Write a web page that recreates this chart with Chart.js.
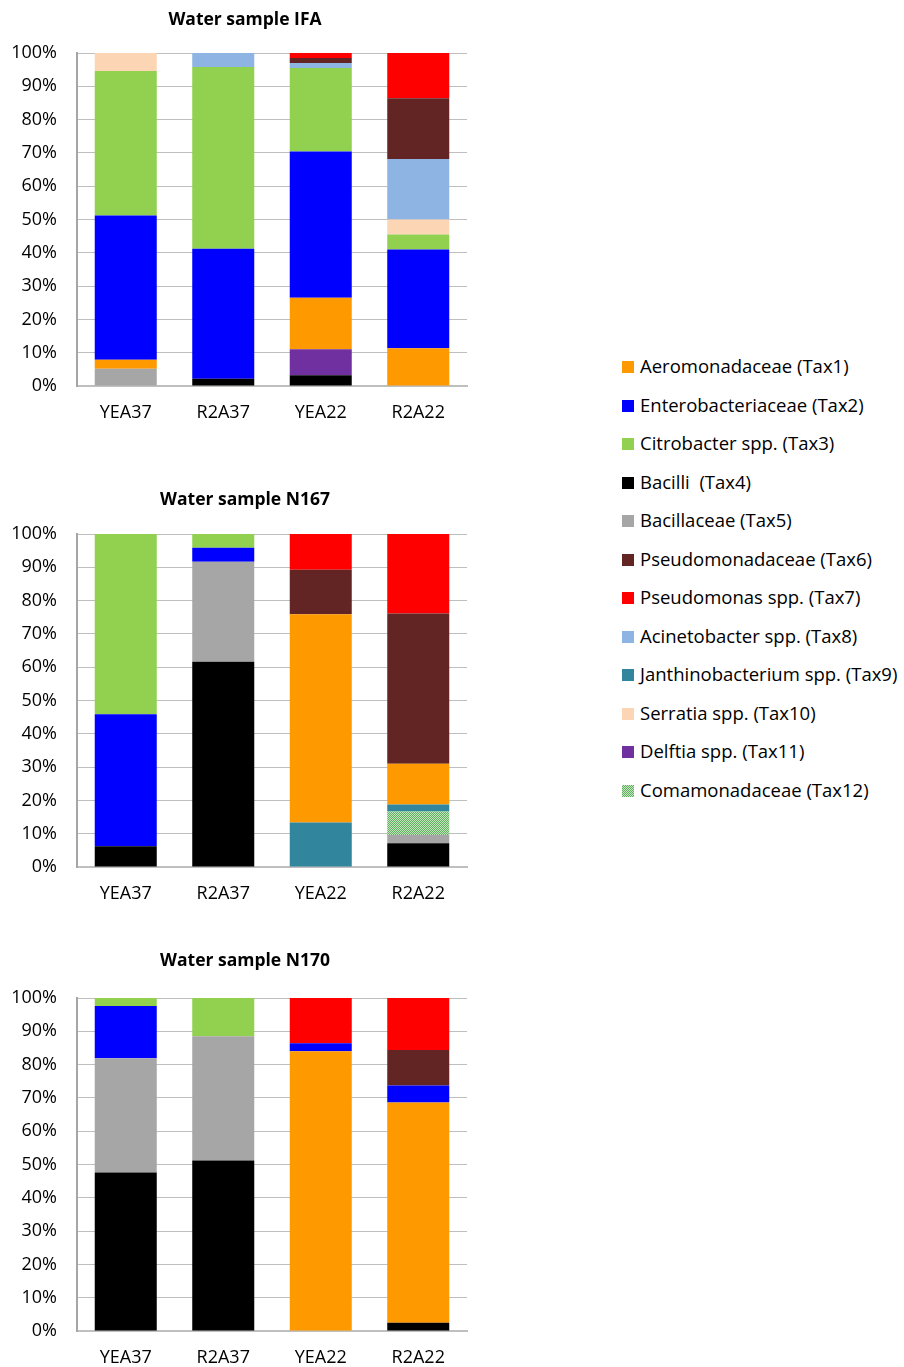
<!DOCTYPE html>
<html>
<head>
<meta charset="utf-8">
<script src="https://cdn.jsdelivr.net/npm/chart.js@4/dist/chart.umd.min.js"></script>
<style>
  body { margin: 0; background: #fff; font-family: 'Open Sans', sans-serif; }
  .box { position: absolute; left: 0; width: 490px; height: 422px; }
  #legend { position: absolute; left: 622px; top: 347px; }
  #legend div { height: 38.5px; line-height: 38.5px; font-size: 18.5px; color: #000; white-space: pre; }
  #legend span.sw { display: inline-block; width: 12px; height: 12px; margin-right: 6px; vertical-align: middle; position: relative; top: -1px; }
</style>
</head>
<body>
<div class="box" style="top:0px"><canvas id="chartIFA"></canvas></div>
<div class="box" style="top:481px"><canvas id="chartN167"></canvas></div>
<div class="box" style="top:945px"><canvas id="chartN170"></canvas></div>
<div id="legend"></div>

<script>
// sample / medium combinations on the x axis
const samples = ['YEA37', 'R2A37', 'YEA22', 'R2A22'];

const taxa = [
  'Aeromonadaceae (Tax1)',
  'Enterobacteriaceae (Tax2)',
  'Citrobacter spp. (Tax3)',
  'Bacilli  (Tax4)',
  'Bacillaceae (Tax5)',
  'Pseudomonadaceae (Tax6)',
  'Pseudomonas spp. (Tax7)',
  'Acinetobacter spp. (Tax8)',
  'Janthinobacterium spp. (Tax9)',
  'Serratia spp. (Tax10)',
  'Delftia spp. (Tax11)',
  'Comamonadaceae (Tax12)'
];

const taxColors = ['#FF9900', '#0000FF', '#92D050', '#000000', '#A6A6A6', '#632523',
                   '#FF0000', '#8DB4E2', '#31859C', '#FCD5B4', '#7030A0', null];

// order the series are stacked in, bottom first (indices into taxa)
const stackOrder = [3, 4, 10, 11, 8, 0, 1, 2, 9, 7, 5, 6];

// % of isolates, one row per taxon (Tax1..Tax12), columns follow samples
const valuesIFA = [
  [2.7, 0, 15.5, 11.3],
  [43.3, 39.0, 43.9, 29.7],
  [43.4, 54.6, 25.1, 4.5],
  [0, 2.2, 3.2, 0],
  [5.2, 0, 0, 0],
  [0, 0, 1.5, 18.2],
  [0, 0, 1.5, 13.6],
  [0, 4.2, 1.5, 18.2],
  [0, 0, 0, 0],
  [5.4, 0, 0, 4.5],
  [0, 0, 7.8, 0],
  [0, 0, 0, 0]
];

const valuesN167 = [
  [0, 0, 62.5, 12.2],
  [39.7, 4.2, 0, 0],
  [54.1, 4.1, 0, 0],
  [6.2, 61.6, 0, 7.1],
  [0, 30.1, 0, 2.5],
  [0, 0, 13.4, 45.1],
  [0, 0, 10.7, 23.9],
  [0, 0, 0, 0],
  [0, 0, 13.4, 2.1],
  [0, 0, 0, 0],
  [0, 0, 0, 0],
  [0, 0, 0, 7.1]
];

const valuesN170 = [
  [0, 0, 84.0, 66.1],
  [15.7, 0, 2.4, 5.1],
  [2.4, 11.5, 0, 0],
  [47.6, 51.2, 0, 2.5],
  [34.3, 37.3, 0, 0],
  [0, 0, 0, 10.7],
  [0, 0, 13.6, 15.6],
  [0, 0, 0, 0],
  [0, 0, 0, 0],
  [0, 0, 0, 0],
  [0, 0, 0, 0],
  [0, 0, 0, 0]
];

// checkered fill for Comamonadaceae
function checkerPattern() {
  const c = document.createElement('canvas');
  c.width = 2; c.height = 2;
  const g = c.getContext('2d');
  g.fillStyle = '#C4E6BE'; g.fillRect(0, 0, 2, 2);
  g.fillStyle = '#62AE60'; g.fillRect(0, 0, 1, 1); g.fillRect(1, 1, 1, 1);
  return g.createPattern(c, 'repeat');
}
const comaFill = checkerPattern();
const fillFor = i => taxColors[i] || comaFill;

const tickFont = { family: "'Open Sans', sans-serif", size: 18 };

function makeChart(id, title, values, titleTop) {
  const datasets = stackOrder.map(i => ({
    label: taxa[i],
    data: values[i],
    backgroundColor: fillFor(i),
    borderWidth: 0,
    categoryPercentage: 1.0,
    barPercentage: 0.636
  }));

  new Chart(document.getElementById(id), {
    type: 'bar',
    data: { labels: samples, datasets: datasets },
    options: {
      responsive: true,
      maintainAspectRatio: false,
      animation: false,
      layout: { padding: 0 },
      plugins: {
        legend: { display: false },
        tooltip: { enabled: false },
        title: {
          display: true,
          text: title,
          color: '#000',
          font: { family: "'Open Sans', sans-serif", size: 17.5, weight: 'bold' },
          padding: { top: titleTop, bottom: 32 - titleTop }
        }
      },
      scales: {
        x: {
          stacked: true,
          grid: { display: false, drawTicks: false },
          border: { color: '#BFBFBF', width: 2 },
          ticks: { color: '#000', font: tickFont, padding: 16 },
          afterFit: s => { s.height = 36; }
        },
        y: {
          stacked: true,
          min: 0,
          max: 100,
          grid: { color: '#BFBFBF', lineWidth: 1, drawTicks: false },
          border: { color: '#A6A6A6', width: 2 },
          ticks: {
            stepSize: 10,
            color: '#000',
            font: tickFont,
            padding: 20,
            callback: v => v + '%'
          },
          afterFit: s => { s.width = 77; }
        },
        // empty right-hand strip so the title stays centred on the whole chart
        spacer: {
          position: 'right',
          grid: { display: false, drawTicks: false },
          border: { display: false },
          ticks: { display: false },
          afterFit: s => { s.width = 23; }
        }
      }
    }
  });
}

makeChart('chartIFA', 'Water sample IFA', valuesIFA, 10);
makeChart('chartN167', 'Water sample N167', valuesN167, 9);
makeChart('chartN170', 'Water sample N170', valuesN170, 5.5);

// shared legend, in taxon order
const legend = document.getElementById('legend');
taxa.forEach((name, i) => {
  const row = document.createElement('div');
  const sw = document.createElement('span');
  sw.className = 'sw';
  if (taxColors[i]) {
    sw.style.background = taxColors[i];
  } else {
    sw.style.background = 'repeating-conic-gradient(#62AE60 0% 25%, #C4E6BE 0% 50%) 0 0 / 2px 2px';
  }
  row.appendChild(sw);
  row.appendChild(document.createTextNode(name));
  legend.appendChild(row);
});
</script>
</body>
</html>
